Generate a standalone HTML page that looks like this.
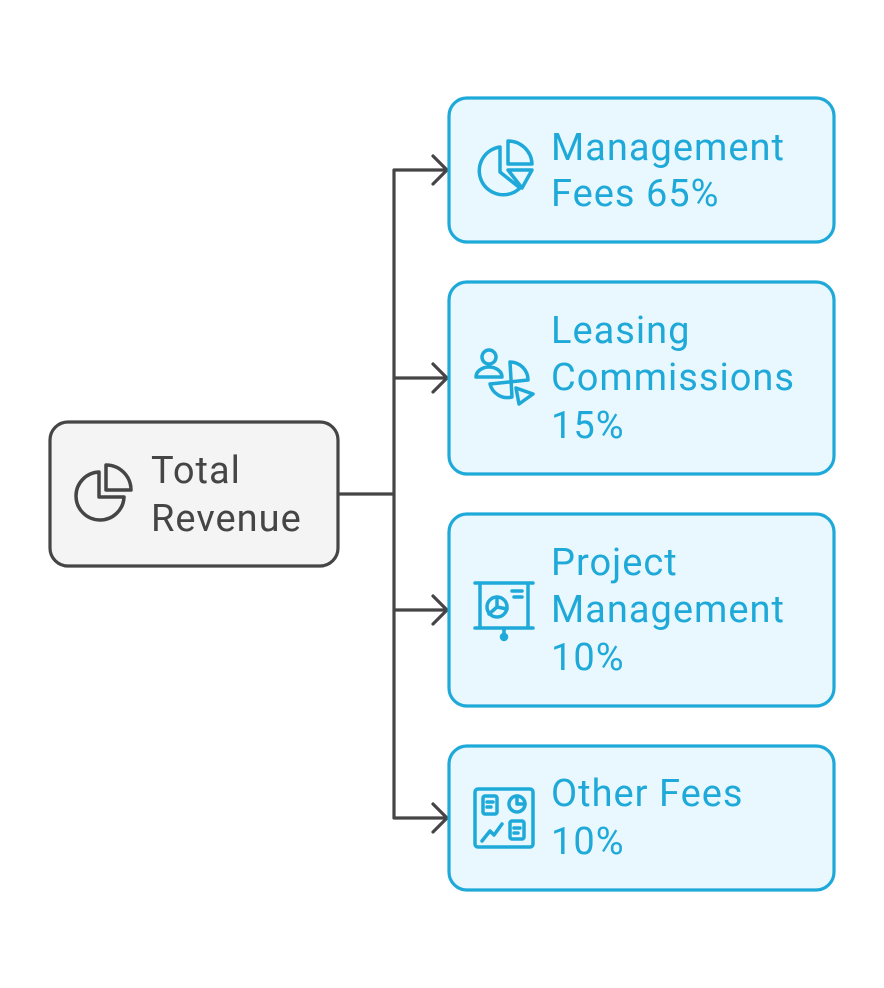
<!DOCTYPE html>
<html><head><style>html,body{margin:0;padding:0;background:#fff;}</style></head><body>
<svg width="884" height="988" viewBox="0 0 884 988" xmlns="http://www.w3.org/2000/svg" style="display:block">
<g fill="none" stroke="#454545" stroke-width="3.2" stroke-linecap="round" stroke-linejoin="round">
<path d="M338 494 H394 M394 170 V818 M394 170 H447 M394 378 H447 M394 610 H447 M394 818 H447"/>
<path d="M433 156 L447 170 L433 184 M433 364 L447 378 L433 392 M433 596 L447 610 L433 624 M433 804 L447 818 L433 832"/>
</g>
<rect x="50" y="422" width="288" height="144" rx="18" fill="#f4f4f4" stroke="#454545" stroke-width="3.2"/>
<g fill="#e8f8fe" stroke="#1ea9d9" stroke-width="3.2">
<rect x="449" y="98" width="385" height="144" rx="18"/>
<rect x="449" y="282" width="385" height="192" rx="18"/>
<rect x="449" y="514" width="385" height="192" rx="18"/>
<rect x="449" y="746" width="385" height="144" rx="18"/>
</g>
<g fill="none" stroke="#454545" stroke-width="3.5" stroke-linejoin="round">
<path d="M99 472 A24 24 0 1 0 124 497 L99 497 Z"/>
<path d="M106 465 V490 H131 A25 25 0 0 0 106 465 Z"/>
</g>
<g fill="none" stroke="#1ea9d9" stroke-width="3.5" stroke-linejoin="round" stroke-linecap="round">
<path d="M500 147 A24 24 0 1 0 520 188 L500 172 Z"/>
<path d="M508 141 V164 H532 A24 24 0 0 0 508 141 Z"/>
<path d="M508 170 H532 L522 188 Z"/>
<circle cx="489" cy="357" r="7"/>
<path d="M476 377 A13 10 0 0 1 502 377 Z"/>
<path d="M490 384 A18 18 0 0 0 512 397 L510 362 A18 18 0 0 1 528 380 Z"/>
<path d="M516 388 L533 394 L519 404 Z"/>
<path d="M475 583 H533 M475 628 H533 M480 583 V628 M528 583 V628 M504 628 V635"/>
<circle cx="504" cy="637" r="2.5" fill="#1ea9d9"/>
<circle cx="497" cy="607" r="10"/>
<path d="M497 597 V607 L507 609 M497 607 L489 614"/>
<path d="M512 591 H522 M514 597 H522"/>
<rect x="475" y="789" width="58" height="58" rx="3"/>
<rect x="483" y="796" width="14" height="18" rx="2"/>
<path d="M487 802 H493 M487 807 H491"/>
<circle cx="517" cy="804" r="8"/>
<path d="M517 796 V804 H525"/>
<rect x="510" y="821" width="14" height="18" rx="2"/>
<path d="M514 828 H520 M514 833 H518"/>
<path d="M482 841 L490 831 L494 835 L502 824"/>
</g>
<g font-family="Roboto, 'Liberation Sans', sans-serif" font-size="38" letter-spacing="1">
<text fill="#454545" x="151" y="483">Total</text>
<text fill="#454545" x="151" y="531">Revenue</text>
<g fill="#1ea9d9">
<text x="551" y="160">Management</text>
<text x="551" y="206">Fees 65%</text>
<text x="551" y="343">Leasing</text>
<text x="551" y="390">Commissions</text>
<text x="551" y="438">15%</text>
<text x="551" y="575">Project</text>
<text x="551" y="622">Management</text>
<text x="551" y="670">10%</text>
<text x="551" y="806">Other Fees</text>
<text x="551" y="854">10%</text>
</g>
</g>
</svg>
</body></html>
